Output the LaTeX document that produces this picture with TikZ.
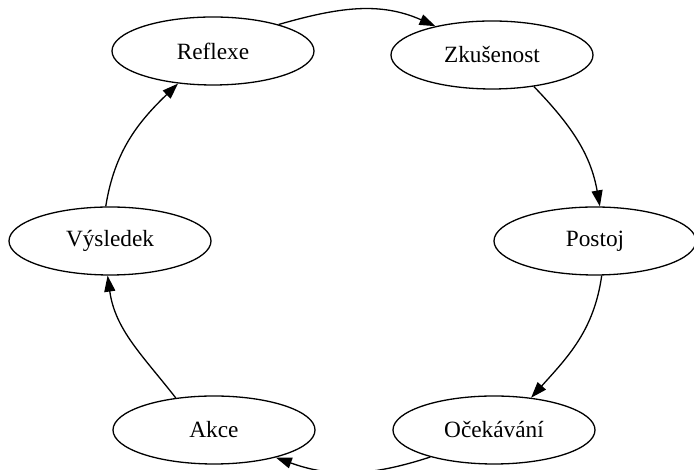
\documentclass[tikz,border=0pt]{standalone}
\usepackage{fontspec}
\setmainfont{Liberation Serif}
\usetikzlibrary{shapes,positioning,arrows.meta}

\begin{document}
\begin{tikzpicture}[->,>={Triangle[length=16pt,width=11pt]},x=1pt,y=1pt,
  line width=1.3pt,
  stage/.style={ellipse,draw=black,minimum width=202pt,minimum height=68pt,inner sep=0pt,
    font=\fontsize{23.3}{28}\selectfont}]
    \useasboundingbox (0,0) rectangle (694,470);
    \node [stage] (refl) at (213,419) {Reflexe};
    \node [stage] (zkus) at (492,415) {Zkušenost};
    \node [stage] (post) at (595,229) {Postoj};
    \node [stage] (ocek) at (494,40) {Očekávání};
    \node [stage] (akce) at (214,40) {Akce};
    \node [stage] (vysl) at (110,229) {Výsledek};
      \path (refl.22) edge[out=16,in=156] (zkus.153);
      \path (zkus.-37) edge[out=-46,in=100] (post.82);
      \path (post.-79) edge[out=-98,in=48] (ocek.41);
      \path (ocek.-157) edge[out=-162,in=-20] (akce.-24);
      \path (akce.140) edge[out=128,in=-82] (vysl.-94);
      \path (vysl.97) edge[out=81,in=-136] (refl.-137);
    \end{tikzpicture}
\end{document}
